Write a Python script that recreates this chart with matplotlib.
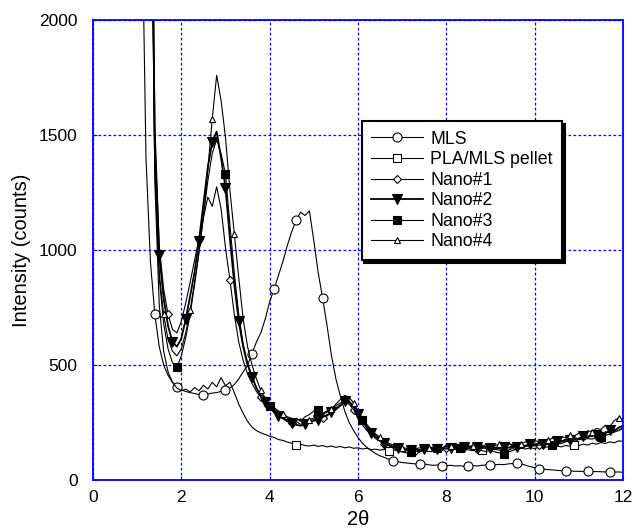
import numpy as np
import matplotlib
matplotlib.use("Agg")
import matplotlib.pyplot as plt

plt.rcParams['font.family'] = ['Liberation Sans', 'DejaVu Sans']

# 2-theta sampling (deg), 1.1 .. 12.0 step 0.1
two_theta = np.round(np.arange(1.1, 12.01, 0.1), 2)

mls = [2600, 1400, 950, 720, 580, 500, 455, 425, 405, 392,
       385, 380, 376, 372, 370, 374, 378, 380, 385, 390,
       400, 415, 440, 470, 500, 550, 600, 640, 700, 775,
       830, 890, 950, 1020, 1080, 1130, 1165, 1150, 1170, 1040,
       900, 790, 670, 540, 440, 365, 300, 250, 215, 185,
       160, 142, 128, 115, 105, 98, 90, 84, 80, 76,
       74, 72, 70, 68, 70, 66, 64, 65, 63, 62,
       64, 61, 62, 60, 62, 63, 61, 64, 65, 64,
       66, 68, 67, 70, 72, 74, 70, 64, 58, 54,
       50, 48, 45, 44, 42, 41, 40, 40, 38, 38,
       37, 38, 36, 37, 36, 35, 36, 35, 35, 34]

pellet = [3500, 3200, 3000, 1300, 760, 560, 470, 425, 400, 388,
          395, 383, 402, 388, 412, 396, 425, 405, 445, 410,
          425, 380, 330, 290, 255, 230, 215, 205, 198, 190,
          185, 176, 172, 165, 160, 152, 156, 150, 148, 152,
          146, 150, 144, 148, 142, 146, 140, 144, 138, 140,
          135, 138, 132, 134, 130, 133, 128, 132, 127, 130,
          128, 131, 126, 130, 128, 132, 127, 130, 129, 133,
          130, 134, 129, 133, 131, 128, 132, 130, 134, 131,
          133, 130, 135, 132, 136, 133, 138, 135, 140, 137,
          142, 139, 145, 141, 148, 144, 150, 147, 153, 150,
          156, 152, 160, 156, 163, 159, 166, 162, 170, 168]

nano1 = [3500, 3400, 3300, 1550, 1020, 830, 720, 655, 640, 690,
         770, 860, 955, 1050, 1140, 1230, 1190, 1275, 1180, 1010,
         870, 720, 600, 520, 460, 420, 385, 360, 340, 320,
         300, 285, 270, 262, 250, 255, 242, 250, 258, 262,
         270, 268, 285, 290, 305, 322, 335, 330, 305, 270,
         240, 215, 200, 180, 168, 158, 150, 142, 138, 134,
         130, 136, 128, 133, 138, 130, 135, 141, 134, 139,
         142, 136, 140, 145, 138, 143, 136, 141, 137, 140,
         135, 142, 138, 146, 141, 148, 144, 152, 149, 156,
         153, 160, 158, 166, 162, 171, 168, 178, 174, 183,
         180, 192, 188, 200, 196, 210, 205, 222, 215, 230]

nano2 = [3500, 3400, 3200, 1450, 980, 790, 670, 600, 580, 615,
         700, 800, 905, 1040, 1200, 1360, 1470, 1515, 1400, 1270,
         1050, 850, 690, 580, 500, 450, 400, 365, 340, 312,
         295, 280, 268, 255, 248, 240, 236, 242, 250, 258,
         262, 275, 280, 296, 310, 325, 342, 338, 318, 285,
         255, 228, 205, 188, 172, 160, 152, 146, 140, 136,
         132, 129, 134, 128, 136, 131, 138, 133, 140, 136,
         139, 144, 137, 142, 147, 140, 145, 139, 143, 138,
         141, 137, 145, 140, 148, 144, 152, 147, 156, 152,
         160, 156, 165, 161, 170, 166, 176, 172, 182, 178,
         190, 185, 198, 194, 206, 202, 216, 212, 228, 236]

nano3 = [3500, 3300, 3000, 1350, 880, 680, 570, 510, 490, 540,
         620, 720, 850, 990, 1150, 1300, 1420, 1480, 1420, 1330,
         1110, 900, 720, 590, 510, 450, 400, 370, 340, 320,
         310, 292, 282, 270, 262, 268, 255, 275, 285, 300,
         305, 290, 300, 312, 322, 335, 348, 345, 320, 290,
         262, 238, 215, 195, 178, 162, 150, 138, 128, 122,
         118, 120, 126, 122, 130, 127, 134, 139, 135, 140,
         136, 142, 138, 133, 140, 135, 131, 128, 124, 128,
         122, 118, 115, 122, 128, 135, 140, 146, 150, 148,
         152, 150, 156, 152, 160, 158, 166, 170, 168, 176,
         175, 180, 178, 184, 188, 194, 200, 208, 215, 225]

nano4 = [3500, 3300, 3100, 1400, 900, 720, 610, 560, 540, 570,
         640, 740, 860, 990, 1140, 1350, 1570, 1760, 1650, 1490,
         1260, 1070, 880, 700, 580, 500, 440, 390, 350, 330,
         315, 300, 288, 275, 268, 260, 265, 258, 262, 270,
         278, 285, 295, 310, 330, 350, 368, 360, 335, 300,
         270, 242, 220, 200, 185, 170, 160, 152, 145, 141,
         138, 142, 136, 140, 145, 138, 143, 148, 141, 146,
         150, 143, 148, 152, 146, 150, 144, 149, 153, 147,
         150, 156, 151, 158, 154, 162, 158, 166, 162, 170,
         168, 175, 172, 182, 178, 188, 185, 196, 192, 204,
         200, 214, 210, 224, 220, 238, 232, 258, 270, 262]

labels = ["MLS", "PLA/MLS pellet", "Nano#1", "Nano#2", "Nano#3", "Nano#4"]

# where the symbols sit on each curve (2-theta)
mls_marks = [1.4, 1.9, 2.5, 3.0, 3.6, 4.1, 4.6, 5.2, 6.8, 7.4,
             7.9, 8.5, 9.0, 9.6, 10.1, 10.7, 11.2, 11.7]
pellet_marks = [4.6, 6.7, 8.8, 10.9]
nano1_marks = [1.7, 2.4, 3.1, 3.8, 4.5, 5.2, 5.9, 6.6, 7.3, 8.0, 8.7, 9.4,
               10.1, 10.8, 11.5]
nano2_marks = [1.5, 1.8, 2.1, 2.4, 2.7, 3.0, 3.3, 3.6, 3.9, 4.2, 4.5, 4.8,
               5.1, 5.4, 5.7, 6.0, 6.3, 6.6, 6.9, 7.2, 7.5, 7.8, 8.1, 8.4,
               8.7, 9.0, 9.3, 9.6, 9.9, 10.2, 10.5, 10.8, 11.1, 11.4, 11.7]
nano3_marks = [1.9, 3.0, 4.0, 5.1, 6.1, 7.2, 7.8, 8.3, 9.3, 10.4, 11.5]
nano4_marks = [1.6, 2.2, 2.7, 3.2, 3.8, 4.3, 4.9, 5.4, 5.9, 6.5, 7.0, 7.6,
               8.1, 8.6, 9.2, 9.7, 10.3, 10.8, 11.3, 11.9]


def idx(marks):
    return list(np.rint((np.array(marks) - two_theta[0]) / 0.1).astype(int))


fig = plt.figure(figsize=(6.33, 5.30), dpi=100)
ax = fig.add_axes([0.1469, 0.0943, 0.8373, 0.8679])

series = [
    (mls, mls_marks, dict(marker='o', ms=6.5, mfc='white', lw=0.8)),
    (pellet, pellet_marks, dict(marker='s', ms=6, mfc='white', lw=0.8)),
    (nano1, nano1_marks, dict(marker='D', ms=4.5, mfc='white', lw=0.8)),
    (nano2, nano2_marks, dict(marker='v', ms=6.5, mfc='black', lw=1.3)),
    (nano3, nano3_marks, dict(marker='s', ms=6, mfc='black', lw=0.8)),
    (nano4, nano4_marks, dict(marker='^', ms=4.5, mfc='white', lw=0.8)),
]
for (vals, marks, st), lab in zip(series, labels):
    ax.plot(two_theta, vals, color='black', mec='black', mew=0.8,
            markevery=idx(marks), label=lab, **st)

ax.set_xlim(0, 12)
ax.set_ylim(0, 2000)
ax.set_xticks([0, 2, 4, 6, 8, 10, 12])
ax.set_yticks([0, 500, 1000, 1500, 2000])
ax.grid(True, color='blue', linestyle=(0, (2.2, 1.8)), linewidth=0.9)
for sp in ax.spines.values():
    sp.set_color('blue')
    sp.set_linewidth(1.3)
ax.tick_params(direction='in', length=3, color='blue', labelsize=12.5)
ax.tick_params(axis='y', pad=11)
ax.tick_params(axis='x', pad=7)

ax.set_xlabel("2θ", fontsize=14.5, labelpad=4)
ax.set_ylabel("Intensity (counts)", fontsize=14.5, labelpad=6)

leg = ax.legend(loc='upper left', bbox_to_anchor=(0.49, 0.80), fontsize=12.8,
                frameon=True, fancybox=False, handlelength=2.9,
                handletextpad=0.4, labelspacing=0.2, borderpad=0.55,
                shadow={'color': 'black', 'alpha': 1.0})
leg.get_frame().set_edgecolor('black')
leg.get_frame().set_linewidth(1.5)
leg.get_frame().set_alpha(1.0)

fig.savefig("out.png", dpi=100)
